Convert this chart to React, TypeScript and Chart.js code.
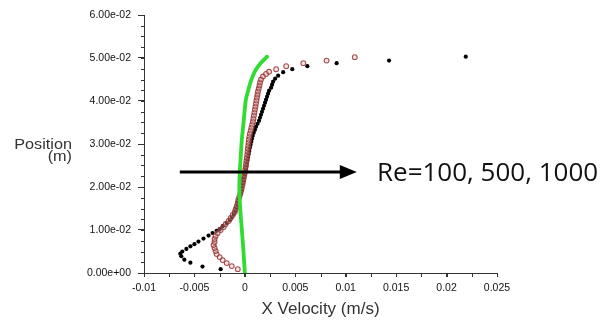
import React, { useEffect, useRef } from 'react';
import { Chart, registerables } from 'chart.js';

Chart.register(...registerables);

// Re = 100 (green, continuous dotted profile)
const re100Y = [0, 0.0054, 0.0101, 0.0147, 0.0194, 0.0235, 0.0263, 0.031, 0.0357, 0.0403, 0.0426, 0.0443, 0.0459, 0.0473, 0.0489, 0.0503];
const re100X = [0, -0.00015, -0.0003, -0.00045, -0.00055, -0.0005, -0.00043, -0.0003, -0.0001, 0.0001, 0.00035, 0.00055, 0.0008, 0.0011, 0.0016, 0.0022];

// Re = 500 (red open circles)
const re500Y = [0.0009, 0.0016, 0.0023, 0.003, 0.0037, 0.0044, 0.0051, 0.0058, 0.0065, 0.0072, 0.0079, 0.0086, 0.0093, 0.01, 0.0107,
  0.0114, 0.0121, 0.0128, 0.0135, 0.0142, 0.0149, 0.0156, 0.0163, 0.017, 0.0177, 0.0184, 0.0191, 0.0198, 0.0205, 0.0212, 0.0219, 0.0226,
  0.0233, 0.024, 0.0247, 0.0254, 0.0261, 0.0268, 0.0275, 0.0282, 0.0289, 0.0296, 0.0303, 0.031, 0.0317, 0.0324, 0.0331, 0.0338, 0.0345,
  0.0352, 0.0359, 0.0366, 0.0373, 0.038, 0.0387, 0.0394, 0.0401, 0.0408, 0.0415, 0.0422, 0.0429, 0.0436, 0.0443, 0.045, 0.0457, 0.0463,
  0.0468, 0.0474, 0.0481, 0.0488, 0.0494, 0.0502];
const re500X = [-0.0007, -0.0013, -0.0018, -0.0022, -0.0025, -0.0028, -0.0029, -0.003, -0.0031, -0.003, -0.003, -0.0029, -0.0027, -0.0024, -0.0021,
  -0.0019, -0.0016, -0.0014, -0.0012, -0.001, -0.0009, -0.0008, -0.0007, -0.00065, -0.00055, -0.00045, -0.00037, -0.0003, -0.00023, -0.00017, -0.00012, -0.00006,
  0, 0.00004, 0.00008, 0.00012, 0.00016, 0.0002, 0.00024, 0.00027, 0.0003, 0.00034, 0.00037, 0.0004, 0.00045, 0.0005, 0.00058, 0.00065, 0.00072,
  0.0008, 0.00085, 0.0009, 0.00095, 0.001, 0.00105, 0.0011, 0.00115, 0.0012, 0.00125, 0.0013, 0.00138, 0.00145, 0.0015, 0.0016, 0.0018, 0.0021,
  0.0024, 0.0031, 0.0041, 0.0058, 0.0081, 0.0109];

// Re = 1000 (black dots)
const re1000Y = [0.0009, 0.0015, 0.0024, 0.0031, 0.0039, 0.0045, 0.005, 0.0056, 0.0062, 0.0067, 0.0073, 0.008, 0.0087, 0.0093, 0.0098, 0.0102,
  0.0109, 0.0116, 0.0123, 0.013, 0.0137, 0.0144, 0.0151, 0.0158, 0.0165, 0.0172, 0.0179, 0.0186, 0.0193, 0.02, 0.0207, 0.0214, 0.0221,
  0.0228, 0.0235, 0.0242, 0.0249, 0.0256, 0.0263, 0.027, 0.0277, 0.0284, 0.0291, 0.0298, 0.0305, 0.0312, 0.0319, 0.0326, 0.0333, 0.034,
  0.0347, 0.0354, 0.0361, 0.0368, 0.0375, 0.0382, 0.0389, 0.0396, 0.0403, 0.041, 0.0417, 0.0424, 0.0431, 0.0438, 0.0445, 0.0452, 0.0459,
  0.0467, 0.0474, 0.0481, 0.0488, 0.0494, 0.0503];
const re1000X = [-0.0024, -0.0042, -0.0054, -0.006, -0.0063, -0.0064, -0.0062, -0.0058, -0.0054, -0.005, -0.0046, -0.0041, -0.0036, -0.0032, -0.0028, -0.0025,
  -0.0022, -0.0018, -0.0015, -0.0013, -0.0011, -0.00095, -0.00085, -0.00075, -0.00068, -0.00062, -0.0005, -0.0004, -0.00034, -0.00028, -0.00022, -0.00015, -0.0001,
  -0.00003, 0.00003, 0.0001, 0.00015, 0.0002, 0.00026, 0.00032, 0.00038, 0.00044, 0.0005, 0.00057, 0.00064, 0.00071, 0.00078, 0.00088, 0.001, 0.0011,
  0.00125, 0.0014, 0.0015, 0.0016, 0.0017, 0.0018, 0.0019, 0.002, 0.0021, 0.0022, 0.0023, 0.0024, 0.0026, 0.0027, 0.0028, 0.003, 0.0033,
  0.0038, 0.0047, 0.0062, 0.0091, 0.0143, 0.0219];

const xTickValues = [-0.01, -0.005, 0, 0.005, 0.01, 0.015, 0.02, 0.025];
const xTickLabels = ['-0.01', '-0.005', '0', '0.005', '0.01', '0.015', '0.02', '0.025'];
const yTickValues = [0, 0.01, 0.02, 0.03, 0.04, 0.05, 0.06];
const yTickLabels = ['0.00e+00', '1.00e-02', '2.00e-02', '3.00e-02', '4.00e-02', '5.00e-02', '6.00e-02'];
const minorStep = 0.0025;

const xTitle = 'X Velocity (m/s)';
const yTitleLines = ['Position', '(m)'];
const annotationText = 'Re=100, 500, 1000';
const arrowFromX = -0.00645;
const arrowToX = 0.0111;
const arrowY = 0.0235;
const annotationX = 0.0131;

const pts = (xs: number[], ys: number[]) => xs.map((x, i) => ({ x, y: ys[i] }));

const decor = {
  id: 'decor',
  afterDraw(chart: any) {
    const ctx = chart.ctx as CanvasRenderingContext2D;
    const xs = chart.scales.x;
    const ys = chart.scales.y;
    const { left, right, bottom } = chart.chartArea;
    ctx.save();
    ctx.strokeStyle = '#333';
    ctx.lineWidth = 1;
    // minor ticks
    for (let i = 0; ; i++) {
      const v = ys.min + i * minorStep;
      if (v > ys.max + 1e-9) break;
      const p = Math.round(ys.getPixelForValue(v)) + 0.5;
      ctx.beginPath();
      ctx.moveTo(left - 3, p);
      ctx.lineTo(left, p);
      ctx.stroke();
    }
    for (let i = 0; ; i++) {
      const v = xs.min + i * minorStep;
      if (v > xs.max + 1e-9) break;
      const p = Math.round(xs.getPixelForValue(v)) + 0.5;
      ctx.beginPath();
      ctx.moveTo(p, bottom);
      ctx.lineTo(p, bottom + 4);
      ctx.stroke();
    }
    // axis titles
    ctx.fillStyle = '#333';
    ctx.font = '17px "Liberation Sans", Arial, sans-serif';
    ctx.textAlign = 'center';
    ctx.textBaseline = 'middle';
    ctx.fillText(xTitle, (left + right) / 2, 309);
    ctx.save();
    ctx.translate(72, 0);
    ctx.scale(1.12, 1);
    ctx.font = '14.5px "Liberation Sans", Arial, sans-serif';
    ctx.textAlign = 'right';
    ctx.fillText(yTitleLines[0], 0, 145);
    ctx.fillText(yTitleLines[1], 0, 157);
    ctx.restore();
    // arrow
    const ay = ys.getPixelForValue(arrowY);
    const ax0 = xs.getPixelForValue(arrowFromX);
    const ax1 = xs.getPixelForValue(arrowToX);
    ctx.strokeStyle = '#000';
    ctx.fillStyle = '#000';
    ctx.lineWidth = 3;
    ctx.beginPath();
    ctx.moveTo(ax0, ay);
    ctx.lineTo(ax1 - 14, ay);
    ctx.stroke();
    ctx.beginPath();
    ctx.moveTo(ax1, ay);
    ctx.lineTo(ax1 - 17, ay - 7);
    ctx.lineTo(ax1 - 17, ay + 7);
    ctx.closePath();
    ctx.fill();
    // annotation text
    ctx.fillStyle = '#111';
    ctx.font = '26px "Open Sans", sans-serif';
    ctx.textAlign = 'left';
    ctx.textBaseline = 'alphabetic';
    ctx.fillText(annotationText, xs.getPixelForValue(annotationX), ay + 9.5);
    ctx.restore();
  },
};

export default function App() {
  const ref = useRef<HTMLCanvasElement>(null);
  useEffect(() => {
    if (!ref.current) return;
    const tickFont = { family: '"Liberation Sans", Arial, sans-serif', size: 10.5 };
    const chart = new Chart(ref.current, {
      type: 'scatter',
      data: {
        datasets: [
          {
            label: 'Re=100',
            data: pts(re100X, re100Y),
            showLine: true,
            borderColor: '#30dc30',
            borderWidth: 3.8,
            borderCapStyle: 'round',
            tension: 0.3,
            pointRadius: 0,
          },
          {
            label: 'Re=500',
            data: pts(re500X, re500Y),
            pointRadius: 2.4,
            borderWidth: 1.1,
            borderColor: 'rgba(150,50,50,0.85)',
            backgroundColor: 'rgba(225,180,180,0.35)',
          },
          {
            label: 'Re=1000',
            data: pts(re1000X, re1000Y),
            pointRadius: 2.1,
            borderWidth: 0,
            backgroundColor: '#000',
            borderColor: '#000',
          },
        ],
      } as any,
      options: {
        animation: false,
        responsive: false,
        devicePixelRatio: 1,
        layout: { padding: { left: 0, right: 107, top: 15, bottom: 0 } },
        plugins: { legend: { display: false }, tooltip: { enabled: false } },
        scales: {
          x: {
            type: 'linear',
            min: -0.01,
            max: 0.025,
            afterBuildTicks: (s: any) => { s.ticks = xTickValues.map((v) => ({ value: v })); },
            afterFit: (s: any) => { s.height = 48; },
            ticks: {
              autoSkip: false,
              maxRotation: 0,
              padding: 5,
              color: '#111',
              font: tickFont,
              callback: (_v: any, i: number) => xTickLabels[i],
            },
            grid: { drawOnChartArea: false, drawTicks: true, tickLength: 4, color: '#333' },
            border: { display: true, color: '#333', width: 1 },
          },
          y: {
            type: 'linear',
            min: 0,
            max: 0.06,
            afterBuildTicks: (s: any) => { s.ticks = yTickValues.map((v) => ({ value: v })); },
            afterFit: (s: any) => { s.width = 144; },
            ticks: {
              autoSkip: false,
              padding: 7,
              color: '#111',
              font: tickFont,
              callback: (_v: any, i: number) => yTickLabels[i],
            },
            grid: { drawOnChartArea: false, drawTicks: true, tickLength: 6, color: '#333' },
            border: { display: true, color: '#333', width: 1 },
          },
        },
      } as any,
      plugins: [decor],
    });
    return () => chart.destroy();
  }, []);
  return (
    <div style={{ position: 'fixed', left: 0, top: 0, width: 604, height: 321, background: '#fff' }}>
      <canvas ref={ref} width={604} height={321} />
    </div>
  );
}
